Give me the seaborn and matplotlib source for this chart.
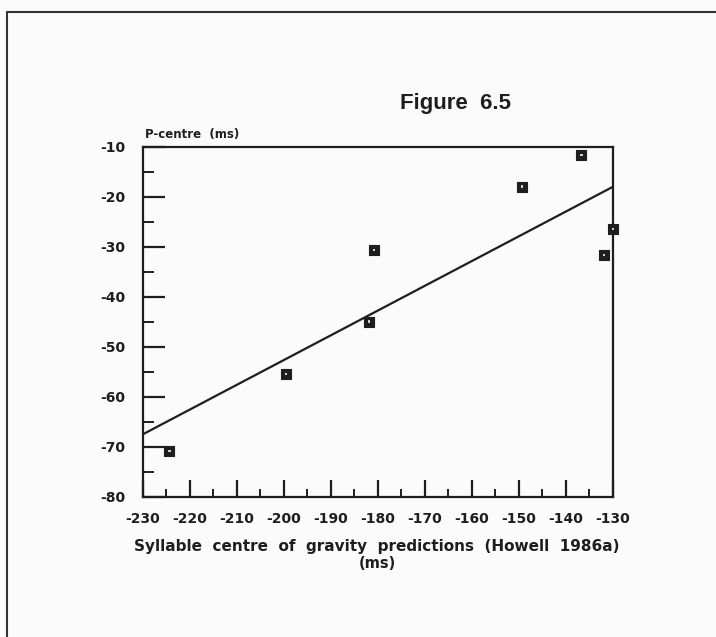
import matplotlib
matplotlib.use("Agg")
import matplotlib.pyplot as plt
from matplotlib.lines import Line2D
from matplotlib.ticker import MultipleLocator
import numpy as np
import pandas as pd
import seaborn as sns

# Syllable centre-of-gravity predictions vs measured P-centres (ms)
cog_pred = [-224.4, -199.6, -181.9, -180.8, -149.4, -136.7, -131.9, -130.0]
p_centre = [-70.9, -55.5, -45.0, -30.7, -18.0, -11.7, -31.7, -26.5]

x_ticks = [-230, -220, -210, -200, -190, -180, -170, -160, -150, -140, -130]
y_ticks = [-10, -20, -30, -40, -50, -60, -70, -80]

df = pd.DataFrame({"cog": cog_pred, "pc": p_centre})

sns.set_style("ticks")
plt.rcParams["font.family"] = ["DejaVu Sans"]
plt.rcParams["font.weight"] = "bold"

bg = "#fbfbfb"
ink = "#1e1e1e"

fig = plt.figure(figsize=(7.16, 6.37), dpi=100, facecolor=bg)
ax = fig.add_axes([0.1997, 0.2203, 0.6563, 0.5494], facecolor=bg)

ax.set_xlim(-230, -130)
ax.set_ylim(-80, -10)

# fitted regression line across the full x range
sns.regplot(data=df, x="cog", y="pc", ax=ax, ci=None, truncate=False,
            scatter=False, line_kws={"color": ink, "lw": 1.6})

# square point markers with a small light centre
sns.scatterplot(data=df, x="cog", y="pc", ax=ax, marker="s", s=62,
                color=ink, edgecolor=ink, linewidth=0.8, zorder=5,
                clip_on=False)
sns.scatterplot(data=df, x="cog", y="pc", ax=ax, marker="s", s=3,
                color="#d0d0d0", edgecolor="none", zorder=6, clip_on=False)

ax.set_xlim(-230, -130)
ax.set_ylim(-80, -10)

ax.set_xticks(x_ticks)
ax.set_xticklabels([str(t) for t in x_ticks])
ax.set_yticks(y_ticks)
ax.set_yticklabels([str(t) for t in y_ticks])
ax.xaxis.set_minor_locator(MultipleLocator(5))
ax.yaxis.set_minor_locator(MultipleLocator(5))

ax.tick_params(axis="both", which="major", direction="in", color=ink,
               width=1.6, labelsize=10, labelcolor=ink)
ax.tick_params(axis="x", which="major", length=12, pad=11)
ax.tick_params(axis="y", which="major", length=16, pad=13)
ax.tick_params(axis="x", which="minor", direction="in", length=6,
               width=1.4, color=ink)
ax.tick_params(axis="y", which="minor", direction="in", length=8,
               width=1.4, color=ink)
for lab in ax.get_xticklabels() + ax.get_yticklabels():
    lab.set_fontweight("bold")

for side in ["top", "right", "bottom", "left"]:
    ax.spines[side].set_visible(True)
    ax.spines[side].set_color(ink)
    ax.spines[side].set_linewidth(1.6)

ax.set_xlabel("")
ax.set_ylabel("")

fig.text(145 / 716, 1 - 135 / 637, "P-centre  (ms)", fontsize=8.5,
         fontweight="bold", color=ink, ha="left", va="center")
fig.text(455 / 716, 1 - 103 / 637, "Figure  6.5", fontsize=16,
         fontweight="bold", color=ink, ha="center", va="center",
         family=["Liberation Sans", "DejaVu Sans"])
fig.text(377 / 716, 1 - 546 / 637,
         "Syllable  centre  of  gravity  predictions  (Howell  1986a)",
         fontsize=11, fontweight="bold", color=ink, ha="center", va="center")
fig.text(377 / 716, 1 - 564 / 637, "(ms)", fontsize=10.5,
         fontweight="bold", color=ink, ha="center", va="center")

# page frame (top and left edges)
fig.add_artist(Line2D([7 / 716, 1.0], [1 - 12 / 637, 1 - 12 / 637],
                      transform=fig.transFigure, color="#333333", lw=1.5))
fig.add_artist(Line2D([7 / 716, 7 / 716], [0.0, 1 - 12 / 637],
                      transform=fig.transFigure, color="#333333", lw=1.5))

fig.savefig("out.png", dpi=100, facecolor=bg)
